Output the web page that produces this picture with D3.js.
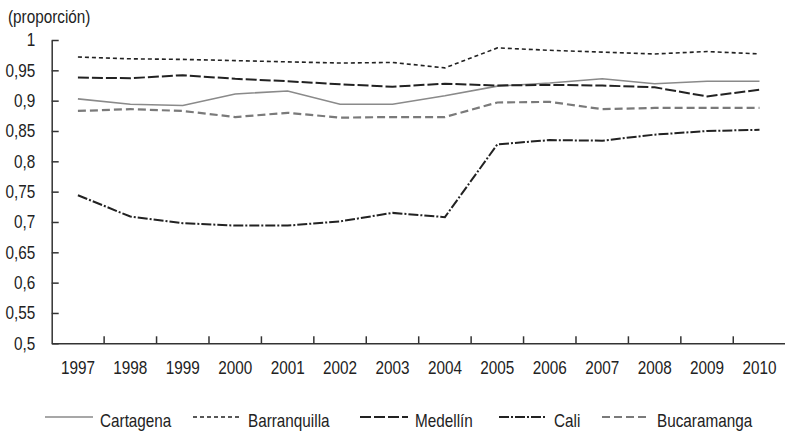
<!DOCTYPE html>
<html><head><meta charset="utf-8">
<script src="https://cdn.jsdelivr.net/npm/d3@7"></script>
<style>
body{margin:0;background:#fff;}
svg text{font-family:"Liberation Sans",Arial,Helvetica,sans-serif;fill:#222;}
</style></head>
<body><svg id="c" width="785" height="433"></svg>
<script>
const years = ["1997","1998","1999","2000","2001","2002","2003","2004","2005","2006","2007","2008","2009","2010"];
const yTicks = [0.5,0.55,0.6,0.65,0.7,0.75,0.8,0.85,0.9,0.95,1];
const cartagena    = [0.903,0.894,0.892,0.911,0.916,0.894,0.894,0.908,0.924,0.929,0.936,0.928,0.932,0.932];
const barranquilla = [0.972,0.969,0.968,0.966,0.964,0.962,0.963,0.954,0.987,0.983,0.980,0.977,0.981,0.977];
const medellin     = [0.938,0.937,0.942,0.936,0.932,0.927,0.923,0.928,0.925,0.926,0.925,0.922,0.907,0.918];
const cali         = [0.744,0.709,0.698,0.694,0.694,0.701,0.715,0.708,0.828,0.835,0.834,0.844,0.850,0.852];
const bucaramanga  = [0.883,0.886,0.883,0.873,0.880,0.872,0.873,0.873,0.897,0.898,0.886,0.888,0.888,0.888];
const seriesNames = ["Cartagena","Barranquilla","Medellín","Cali","Bucaramanga"];

(function(){
const series = [
  {name:seriesNames[0], values:cartagena,    color:"#8a8a8a", dash:null,        w:1.6},
  {name:seriesNames[1], values:barranquilla, color:"#222",    dash:"4,3",       w:1.6},
  {name:seriesNames[2], values:medellin,     color:"#222",    dash:"11,3",      w:2},
  {name:seriesNames[3], values:cali,         color:"#222",    dash:"10,2,2,2",  w:2},
  {name:seriesNames[4], values:bucaramanga,  color:"#7a7a7a", dash:"8,4",       w:2.2}
];
const SX = 0.85, FS = "18px";
function condense(sel){
  sel.each(function(){
    const t = d3.select(this);
    const xx = +t.attr("x") || 0;
    t.attr("x", xx / SX).attr("transform", `scale(${SX},1)`).style("font-size", FS);
  });
}

const svg = d3.select("#c");
const mLeft = 51.7, mRight = 785.7, mTop = 40, mBottom = 343.3;
const x = d3.scaleBand().domain(years).range([mLeft, mRight]);
const y = d3.scaleLinear().domain([0.5,1]).range([mBottom, mTop]);

const ya = svg.append("g").attr("transform",`translate(${mLeft},0)`)
  .call(d3.axisLeft(y).tickValues(yTicks).tickSizeInner(-7).tickSizeOuter(0).tickPadding(16.5)
    .tickFormat(d => d3.format(".2~f")(d).replace(".",",")));
ya.select(".domain").attr("stroke","#333").attr("stroke-width",1.5);
ya.selectAll(".tick line").attr("stroke","#333").attr("stroke-width",1.5);
ya.selectAll(".tick text").attr("fill","#222").call(condense);

const xa = svg.append("g").attr("transform",`translate(0,${mBottom})`)
  .call(d3.axisBottom(x).tickSize(0).tickPadding(18));
xa.select(".domain").attr("stroke","#333").attr("stroke-width",1.5);
xa.selectAll(".tick text").attr("fill","#222").call(condense);
svg.append("g").selectAll("line").data(years.slice(1)).join("line")
  .attr("x1", d => x(d)).attr("x2", d => x(d))
  .attr("y1", mBottom).attr("y2", mBottom-7)
  .attr("stroke","#333").attr("stroke-width",1.5);

svg.append("text").attr("x",8).attr("y",23).text("(proporción)").call(condense);

const line = d3.line().x((d,i) => x(years[i]) + x.bandwidth()/2).y(d => y(d));
svg.append("g").selectAll("path").data(series).join("path")
  .attr("d", d => line(d.values))
  .attr("fill","none")
  .attr("stroke", d => d.color)
  .attr("stroke-width", d => d.w)
  .attr("stroke-dasharray", d => d.dash);

const legX = [45, 193, 360, 499, 602];
const lg = svg.append("g").selectAll("g").data(series).join("g")
  .attr("transform",(d,i)=>`translate(${legX[i]},417)`);
lg.append("line").attr("x1",0).attr("x2",48).attr("y1",0).attr("y2",0)
  .attr("stroke", d => d.color).attr("stroke-width", d => d.w)
  .attr("stroke-dasharray", d => d.dash);
lg.append("text").attr("x",55).attr("y",10).text(d => d.name).call(condense);
})();
</script></body></html>
